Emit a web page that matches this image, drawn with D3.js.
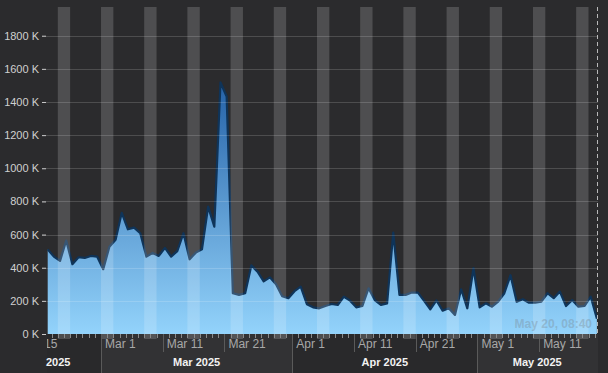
<!DOCTYPE html>
<html>
<head>
<meta charset="utf-8">
<script src="https://cdn.jsdelivr.net/npm/d3@7"></script>
<style>
  html, body { margin: 0; padding: 0; background: #2b2b2d; }
  svg { display: block; font-family: "Liberation Sans", Arial, sans-serif; }
</style>
</head>
<body>
<div id="chart"></div>
<script>
// daily values (thousands), one point per day at 08:40 starting Feb 20 2025
var startDate = new Date(2025, 1, 20, 8, 40);
var dailyK = [
    510, 467, 441, 564, 421, 463, 459, 471, 467, 391,
    527, 568, 731, 632, 642, 608, 467, 489, 471, 520,
    467, 500, 608, 451, 491, 511, 769, 648, 1518, 1433,
    246, 236, 246, 414, 376, 318, 342, 300, 228, 216,
    258, 286, 180, 161, 155, 169, 181, 175, 225, 201,
    161, 169, 276, 205, 175, 185, 612, 236, 236, 250,
    250, 200, 149, 203, 141, 155, 115, 270, 155, 397,
    161, 185, 165, 195, 246, 355, 195, 210, 189, 189,
    195, 246, 216, 256, 169, 205, 165, 169, 225, 92
];
var yTicksK = [0, 200, 400, 600, 800, 1000, 1200, 1400, 1600, 1800];
var xTickDates = ["2025-02-15", "2025-03-01", "2025-03-11", "2025-03-21", "2025-04-01",
    "2025-04-11", "2025-04-21", "2025-05-01", "2025-05-11"];
var months = ["2025-02-01", "2025-03-01", "2025-04-01", "2025-05-01", "2025-06-01"];
var stampText = "May 20, 08:40";

var W = 608, H = 373;
var plot = {left: 47, right: 598, top: 7, bottom: 334};

var data = dailyK.map(function(v, i) {
    return {date: d3.timeDay.offset(startDate, i), value: v};
});
var parseDay = d3.timeParse("%Y-%m-%d");

var x = d3.scaleTime()
    .domain([data[0].date, data[data.length - 1].date])
    .range([47.7, 596.9]);
var y = d3.scaleLinear()
    .domain([0, 1800])
    .range([plot.bottom, 35.7]);

var svg = d3.select("#chart").append("svg")
    .attr("width", W)
    .attr("height", H);

var defs = svg.append("defs");
defs.append("clipPath").attr("id", "plotClip")
    .append("rect")
    .attr("x", plot.left).attr("y", 0)
    .attr("width", plot.right - plot.left).attr("height", H);

var grad = defs.append("linearGradient")
    .attr("id", "areaGrad")
    .attr("gradientUnits", "userSpaceOnUse")
    .attr("x1", 0).attr("x2", 0)
    .attr("y1", y(1600)).attr("y2", y(0));
grad.append("stop").attr("offset", "0%").attr("stop-color", "#1f5ca3");
grad.append("stop").attr("offset", "100%").attr("stop-color", "#93d3fb");

// month bands under the axis
var monthDates = months.map(parseDay);
var bottom = svg.append("g").attr("clip-path", "url(#plotClip)");
bottom.selectAll("rect.month")
    .data(monthDates.slice(0, -1))
    .enter().append("rect")
    .attr("class", "month")
    .attr("x", function(d) { return x(d); })
    .attr("y", plot.bottom)
    .attr("width", function(d, i) { return x(monthDates[i + 1]) - x(d); })
    .attr("height", H - plot.bottom)
    .attr("fill", function(d, i) { return i % 2 === 0 ? "#29292b" : "#323234"; });

// area + line
var area = d3.area()
    .x(function(d) { return x(d.date); })
    .y0(y(0))
    .y1(function(d) { return y(d.value); });
var line = d3.line()
    .x(function(d) { return x(d.date); })
    .y(function(d) { return y(d.value); });

var main = svg.append("g").attr("clip-path", "url(#plotClip)");
main.append("path")
    .datum(data)
    .attr("d", area)
    .attr("fill", "url(#areaGrad)");
main.append("path")
    .datum(data)
    .attr("d", line)
    .attr("fill", "none")
    .attr("stroke", "#0f3459")
    .attr("stroke-width", 2.2)
    .attr("stroke-linejoin", "round");

// weekend bands (Sat 00:00 -> Mon 00:00)
var saturdays = d3.timeSaturday.range(d3.timeDay.offset(x.domain()[0], -2), x.domain()[1]);
main.selectAll("rect.weekend")
    .data(saturdays)
    .enter().append("rect")
    .attr("class", "weekend")
    .attr("x", function(d) { return x(d); })
    .attr("y", plot.top)
    .attr("width", function(d) { return x(d3.timeDay.offset(d, 2)) - x(d); })
    .attr("height", plot.bottom + 5 - plot.top)
    .attr("fill", "#ffffff")
    .attr("fill-opacity", 0.17);

// horizontal grid
svg.append("g").selectAll("line")
    .data(yTicksK.slice(1))
    .enter().append("line")
    .attr("x1", 42).attr("x2", plot.right)
    .attr("y1", function(d) { return Math.round(y(d)) + 0.5; })
    .attr("y2", function(d) { return Math.round(y(d)) + 0.5; })
    .attr("stroke", "#ffffff")
    .attr("stroke-opacity", 0.16);

// y axis
var yAxis = d3.axisLeft(y)
    .tickValues(yTicksK)
    .tickSize(4)
    .tickPadding(3)
    .tickFormat(function(d) { return d + " K"; });
var yg = svg.append("g")
    .attr("transform", "translate(46,0)")
    .call(yAxis);
yg.select(".domain").remove();
yg.selectAll(".tick line").attr("stroke", "#c8c8c8");
yg.selectAll(".tick text")
    .attr("fill", "#d0d0d0")
    .style("font-size", "11px")
    .style("font-family", "'Liberation Sans', Arial, sans-serif");

// x axis: daily minor ticks, labelled major ticks, month boundaries
var xg = svg.append("g").attr("clip-path", "url(#plotClip)");
xg.selectAll("line.minor")
    .data(d3.timeDay.range(x.domain()[0], x.domain()[1]))
    .enter().append("line")
    .attr("class", "minor")
    .attr("x1", function(d) { return Math.round(x(d)) + 0.5; })
    .attr("x2", function(d) { return Math.round(x(d)) + 0.5; })
    .attr("y1", plot.bottom).attr("y2", plot.bottom + 4)
    .attr("stroke", "#8a8a8a");

var majors = xTickDates.map(parseDay);
xg.selectAll("line.major")
    .data(majors)
    .enter().append("line")
    .attr("class", "major")
    .attr("x1", function(d) { return Math.round(x(d)) + 0.5; })
    .attr("x2", function(d) { return Math.round(x(d)) + 0.5; })
    .attr("y1", plot.bottom)
    .attr("y2", function(d) { return d.getDate() === 1 ? H : 352; })
    .attr("stroke", "#5a5a5a");

// labels that begin left of the plot only keep their visible (day) part
xg.selectAll("text.major")
    .data(majors)
    .enter().append("text")
    .attr("class", "major")
    .attr("x", function(d) { return x(d) < plot.left ? 44 : x(d) + 4; })
    .attr("y", 348)
    .attr("fill", "#a8a8a8")
    .style("font-size", "12px")
    .text(function(d) {
        return x(d) < plot.left ? d3.timeFormat("%-d")(d) : d3.timeFormat("%b %-d")(d);
    });

// month labels centred in their visible span; the clipped first month shows its year
svg.append("g").selectAll("text.month")
    .data(monthDates.slice(0, -1))
    .enter().append("text")
    .attr("class", "month")
    .attr("x", function(d, i) {
        if (x(d) < plot.left) return 46;
        var a = Math.max(x(d), plot.left);
        var b = Math.min(x(monthDates[i + 1]), 597);
        return (a + b) / 2;
    })
    .attr("y", 366)
    .attr("text-anchor", function(d) { return x(d) < plot.left ? "start" : "middle"; })
    .attr("fill", "#f2f2f2")
    .style("font-size", "11px")
    .style("font-weight", "bold")
    .text(function(d) {
        return x(d) < plot.left ? d3.timeFormat("%Y")(d) : d3.timeFormat("%b %Y")(d);
    });

// "now" marker
svg.append("line")
    .attr("x1", 597.5).attr("x2", 597.5)
    .attr("y1", plot.top).attr("y2", plot.bottom)
    .attr("stroke", "#dddddd")
    .attr("stroke-dasharray", "4,3")
    .attr("stroke-opacity", 0.8);

// faint timestamp
svg.append("text")
    .attr("x", 592)
    .attr("y", 328)
    .attr("text-anchor", "end")
    .attr("fill", "#7b8a96")
    .attr("fill-opacity", 0.4)
    .style("font-size", "12px")
    .style("font-weight", "bold")
    .text(stampText);
</script>
</body>
</html>
